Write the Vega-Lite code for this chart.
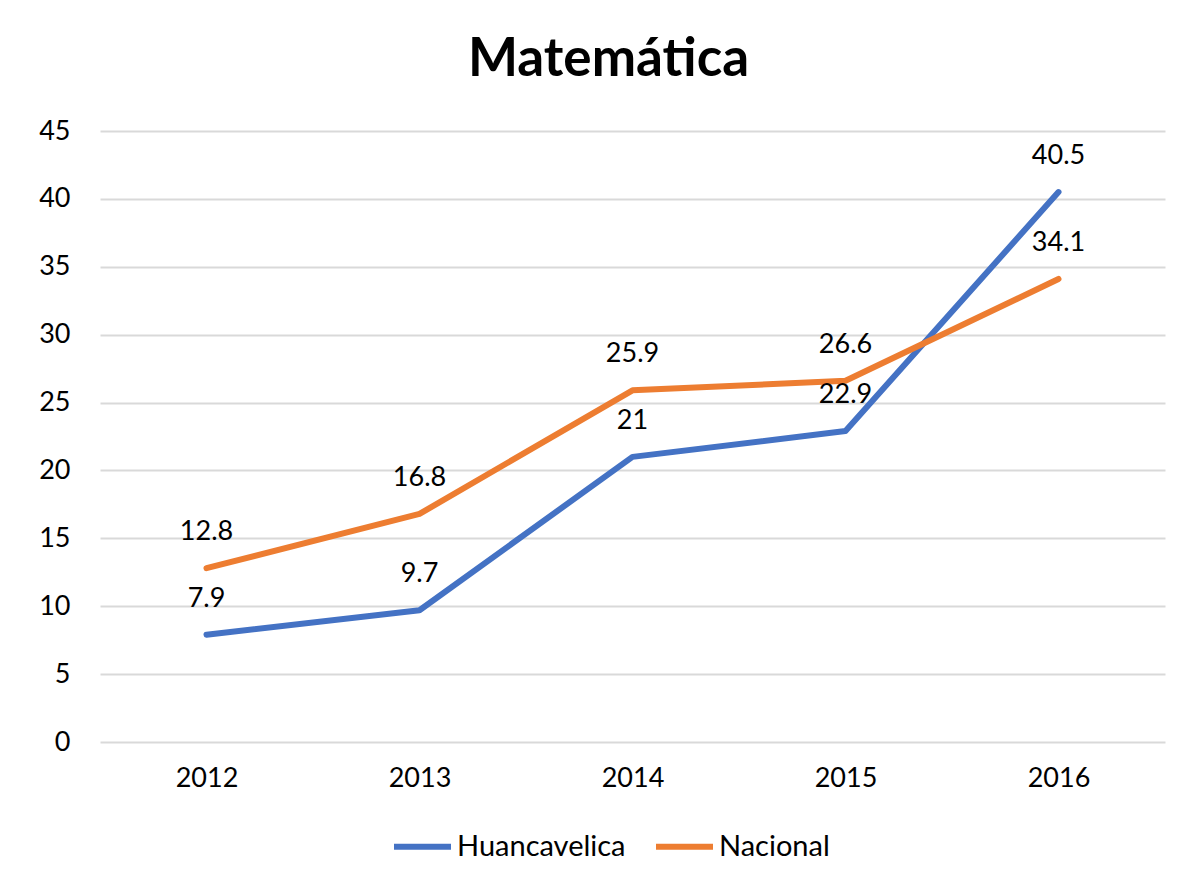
{
  "$schema": "https://vega.github.io/schema/vega-lite/v6.json",
  "autosize": "none",
  "width": 1065,
  "height": 611,
  "padding": {"left": 100, "top": 131, "right": 24, "bottom": 145},
  "background": "white",
  "title": {
    "text": "Matemática",
    "font": "Lato",
    "fontSize": 53,
    "fontWeight": "bold",
    "color": "#000000",
    "anchor": "middle",
    "frame": "group",
    "dx": -24,
    "offset": 30
  },
  "data": {
    "values": [
      {"year": "2012", "serie": "Huancavelica", "valor": 7.9},
      {"year": "2013", "serie": "Huancavelica", "valor": 9.7},
      {"year": "2014", "serie": "Huancavelica", "valor": 21},
      {"year": "2015", "serie": "Huancavelica", "valor": 22.9},
      {"year": "2016", "serie": "Huancavelica", "valor": 40.5},
      {"year": "2012", "serie": "Nacional", "valor": 12.8},
      {"year": "2013", "serie": "Nacional", "valor": 16.8},
      {"year": "2014", "serie": "Nacional", "valor": 25.9},
      {"year": "2015", "serie": "Nacional", "valor": 26.6},
      {"year": "2016", "serie": "Nacional", "valor": 34.1}
    ]
  },
  "encoding": {
    "x": {
      "field": "year",
      "type": "ordinal",
      "scale": {"type": "point", "padding": 0.5},
      "axis": {
        "title": null,
        "labelAngle": 0,
        "labelFont": "Lato",
        "labelFontSize": 27,
        "labelColor": "#000000",
        "labelPadding": 23,
        "ticks": false,
        "domain": false,
        "grid": false
      }
    },
    "y": {
      "field": "valor",
      "type": "quantitative",
      "scale": {"domain": [0, 45]},
      "axis": {
        "title": null,
        "values": [0, 5, 10, 15, 20, 25, 30, 35, 40, 45],
        "labelFont": "Lato",
        "labelFontSize": 27,
        "labelColor": "#000000",
        "labelPadding": 30,
        "ticks": false,
        "domain": false,
        "grid": true,
        "gridColor": "#d9d9d9",
        "gridWidth": 2
      }
    },
    "color": {
      "field": "serie",
      "type": "nominal",
      "scale": {"domain": ["Huancavelica", "Nacional"], "range": ["#4472C4", "#ED7D31"]},
      "legend": {
        "title": null,
        "orient": "none",
        "direction": "horizontal",
        "legendX": 291,
        "legendY": 684,
        "symbolType": "stroke",
        "symbolSize": 3249,
        "symbolStrokeWidth": 6,
        "labelFont": "Lato",
        "labelFontSize": 29,
        "labelColor": "#000000",
        "labelLimit": 400,
        "labelOffset": 3,
        "columnPadding": 18
      }
    }
  },
  "layer": [
    {
      "mark": {"type": "line", "strokeWidth": 6, "strokeCap": "round", "strokeJoin": "round"}
    },
    {
      "mark": {"type": "text", "dy": -36, "font": "Lato", "fontSize": 27, "color": "#000000"},
      "encoding": {
        "text": {"field": "valor", "type": "quantitative"},
        "color": {"value": "#000000"}
      }
    }
  ],
  "config": {"view": {"stroke": null}}
}
